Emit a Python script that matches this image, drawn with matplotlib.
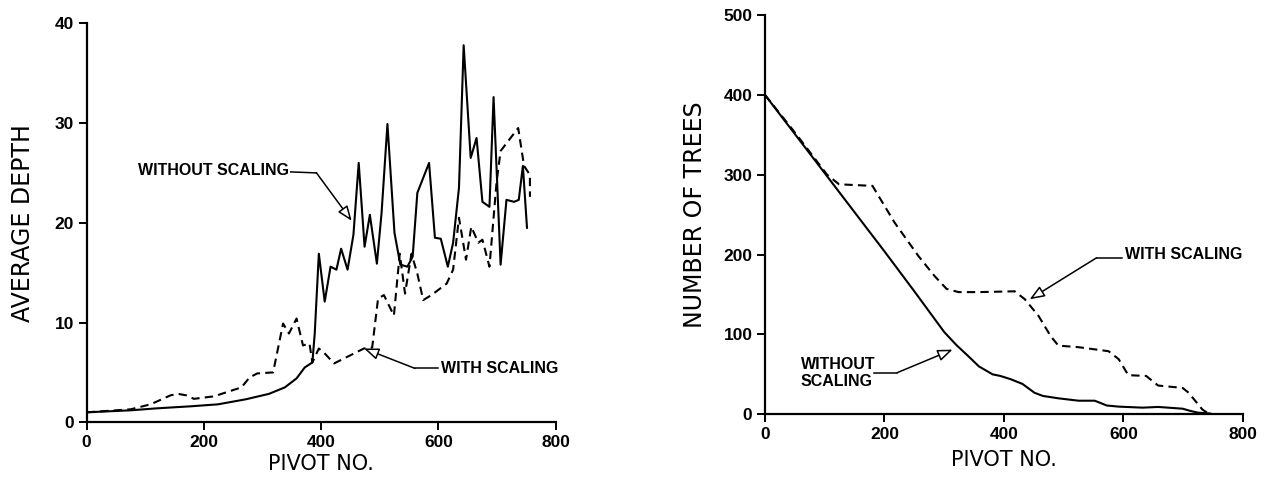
import matplotlib.pyplot as plt

plt.rcParams['font.family'] = ['Liberation Sans Narrow', 'Liberation Sans', 'DejaVu Sans']

# Left panel: average depth vs pivot number
depth_nos_x = [0, 75, 120, 177, 224, 271, 311, 338, 358, 372, 385, 389, 396, 406, 416, 426,
               434, 445, 455, 464, 474, 483, 495, 503, 513, 525, 535, 547, 556, 564, 584,
               594, 604, 616, 625, 635, 643, 655, 665, 675, 687, 694, 706, 716, 729, 737,
               744, 751]
depth_nos_y = [1.0, 1.2, 1.4, 1.6, 1.8, 2.3, 2.85, 3.5, 4.4, 5.5, 6.0, 8.9, 16.9, 12.1, 15.6,
               15.3, 17.4, 15.3, 18.8, 26.0, 17.6, 20.8, 15.9, 21.0, 29.9, 19.0, 15.8, 15.6,
               16.6, 23.0, 26.0, 18.5, 18.4, 15.6, 18.0, 23.5, 37.8, 26.5, 28.5, 22.1, 21.6,
               32.6, 15.8, 22.3, 22.1, 22.3, 25.7, 19.5]

depth_sc_x = [0, 75, 109, 143, 156, 170, 183, 217, 264, 278, 291, 318, 335, 345, 358, 369,
              380, 385, 396, 406, 422, 473, 487, 497, 507, 524, 534, 543, 554, 564, 574,
              588, 614, 625, 635, 647, 656, 668, 675, 687, 699, 706, 736, 746, 756, 756]
depth_sc_y = [1.0, 1.3, 1.8, 2.7, 2.85, 2.7, 2.35, 2.6, 3.5, 4.5, 4.9, 5.0, 9.9, 8.9, 10.4,
              7.7, 7.9, 6.0, 7.4, 6.9, 5.9, 7.4, 7.5, 12.4, 12.75, 10.7, 16.9, 12.9, 16.9,
              14.9, 12.25, 12.75, 13.9, 15.3, 20.5, 16.3, 19.6, 18.0, 18.3, 15.6, 24.0,
              27.2, 29.5, 25.7, 24.8, 22.6]

# Right panel: number of trees vs pivot number
trees_nos_x = [0, 100, 200, 250, 300, 320, 340, 358, 381, 394, 411, 431, 451, 465, 491, 525,
               552, 572, 592, 632, 658, 699, 712, 725, 745]
trees_nos_y = [400, 302, 204, 154, 103, 87, 73, 60, 50, 48, 44, 38, 27, 23, 20, 17, 17, 11,
               9.6, 8.3, 9.2, 7, 4.2, 2, 1]

trees_sc_x = [0, 50, 104, 124, 180, 217, 257, 284, 304, 324, 358, 418, 435, 458, 478, 491,
              525, 575, 592, 608, 638, 658, 699, 709, 732, 742]
trees_sc_y = [400, 353, 300, 288, 286, 240, 198, 173, 157, 153, 153, 154, 144, 123, 98, 86,
              84, 79, 69, 49, 48, 36, 33, 27, 6, 1]

fig = plt.figure(figsize=(12.65, 4.79), dpi=100)

ax1 = fig.add_axes([0.0685, 0.1184, 0.3708, 0.833])
ax2 = fig.add_axes([0.6047, 0.1351, 0.3779, 0.8336])

dash = (0, (4, 2.5))


def style_axes(ax, ymax, yticks):
    ax.set_xlim(0, 800)
    ax.set_ylim(0, ymax)
    ax.set_xticks([0, 200, 400, 600, 800])
    ax.set_yticks(yticks)
    for s in ['top', 'right']:
        ax.spines[s].set_visible(False)
    for s in ['left', 'bottom']:
        ax.spines[s].set_linewidth(1.6)
    ax.tick_params(direction='out', length=6, width=1.4, labelsize=12.5, pad=3)
    for lab in ax.get_xticklabels() + ax.get_yticklabels():
        lab.set_fontweight('bold')
        lab.set_family(['Liberation Sans', 'DejaVu Sans'])


def callout(ax, text, tx, ty, start, elbow, tip, ha='left'):
    ax.text(tx, ty, text, fontsize=11.5, fontweight='bold', ha=ha, va='center',
            linespacing=1.2)
    ax.plot([start[0], elbow[0]], [start[1], elbow[1]], color='black', lw=1.1, clip_on=False)
    ax.annotate('', xy=tip, xytext=elbow,
                arrowprops=dict(arrowstyle='-|>,head_length=0.9,head_width=0.35',
                                fc='white', ec='black', lw=1.1, shrinkA=0, shrinkB=0))


ax1.plot(depth_nos_x, depth_nos_y, color='black', lw=1.5)
ax1.plot(depth_sc_x, depth_sc_y, color='black', lw=1.5, linestyle=dash)
style_axes(ax1, 40, [0, 10, 20, 30, 40])
ax1.set_xlabel('PIVOT NO.', fontsize=15, family=['DejaVu Sans'], labelpad=3)
ax1.set_ylabel('AVERAGE DEPTH', fontsize=17, family=['DejaVu Sans'], labelpad=14)
callout(ax1, 'WITHOUT SCALING', 345, 25.2, (348, 25.1), (392, 25.0), (452, 20.2), ha='right')
callout(ax1, 'WITH SCALING', 605, 5.4, (600, 5.4), (560, 5.4), (473, 7.4))

ax2.plot(trees_nos_x, trees_nos_y, color='black', lw=1.5)
ax2.plot(trees_sc_x, trees_sc_y, color='black', lw=1.5, linestyle=dash)
style_axes(ax2, 500, [0, 100, 200, 300, 400, 500])
ax2.set_xlabel('PIVOT NO.', fontsize=15, family=['DejaVu Sans'], labelpad=6)
ax2.set_ylabel('NUMBER OF TREES', fontsize=17, family=['DejaVu Sans'], labelpad=12)
callout(ax2, 'WITH SCALING', 603, 200, (598, 196), (555, 196), (443, 144))
callout(ax2, 'WITHOUT\nSCALING', 60, 52, (182, 52), (221, 52), (314, 81))

fig.savefig('out.png', dpi=100)
